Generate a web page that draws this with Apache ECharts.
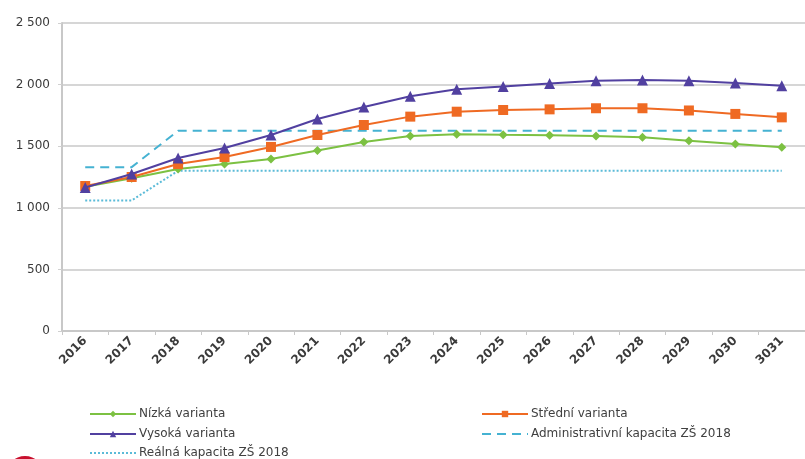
<!DOCTYPE html>
<html>
<head>
<meta charset="utf-8">
<script src="https://cdn.jsdelivr.net/npm/echarts@6/dist/echarts.min.js"></script>
<style>
  html, body { margin: 0; padding: 0; background: #fff; }
  #chart { width: 805px; height: 459px; }
</style>
</head>
<body>
<div id="chart"></div>
<script>
// roky na ose x (poslední popisek je v originále opravdu "3031")
var years = ['2016', '2017', '2018', '2019', '2020', '2021', '2022', '2023',
             '2024', '2025', '2026', '2027', '2028', '2029', '2030', '3031'];

// počty žáků podle variant
var nizka   = [1170, 1240, 1315, 1355, 1396, 1465, 1534, 1583, 1598, 1592, 1588, 1583, 1572, 1545, 1518, 1492];
var stredni = [1177, 1250, 1355, 1412, 1494, 1591, 1672, 1740, 1780, 1794, 1799, 1808, 1808, 1790, 1762, 1734];
var vysoka  = [1165, 1274, 1404, 1485, 1591, 1721, 1818, 1905, 1962, 1985, 2008, 2032, 2037, 2032, 2012, 1990];

// kapacity
var adminKap = [1330, 1330, 1625, 1625, 1625, 1625, 1625, 1625, 1625, 1625, 1625, 1625, 1625, 1625, 1625, 1625];
var realKap  = [1060, 1060, 1300, 1300, 1300, 1300, 1300, 1300, 1300, 1300, 1300, 1300, 1300, 1300, 1300, 1300];

var names = ['Nízká varianta', 'Střední varianta', 'Vysoká varianta',
             'Administrativní kapacita ZŠ 2018', 'Reálná kapacita ZŠ 2018'];

var chart = echarts.init(document.getElementById('chart'));

var font = 'DejaVu Sans, Verdana, sans-serif';

// jedna legenda pro každou položku, ať sedí rozložení do dvou sloupců
function legendItem(name, left, top, noSymbol) {
  var item = { name: name };
  if (noSymbol) item.itemStyle = { opacity: 0 };
  return {
    left: left, top: top, orient: 'horizontal',
    itemWidth: 46, itemHeight: 8, itemGap: 4,
    data: [item],
    textStyle: { fontSize: 12, color: '#404040', fontFamily: font, padding: [0, 0, 0, -2] }
  };
}

var option = {
  animation: false,
  textStyle: { fontFamily: font },
  grid: { left: 62, top: 23, right: -11, bottom: 128 },
  legend: [
    legendItem(names[0], 84, 403),
    legendItem(names[2], 84, 423),
    legendItem(names[4], 84, 442, true),
    legendItem(names[1], 476, 403),
    legendItem(names[3], 476, 423, true)
  ],
  xAxis: {
    type: 'category',
    data: years,
    boundaryGap: true,
    axisLine: { lineStyle: { color: '#c8c8c8', width: 2 } },
    axisTick: { show: true, length: 4, lineStyle: { color: '#c8c8c8' } },
    axisLabel: { rotate: 45, fontSize: 12, fontWeight: 'bold', color: '#3a3a3a', margin: 8 }
  },
  yAxis: {
    type: 'value',
    min: 0, max: 2500, interval: 500,
    axisLine: { show: true, lineStyle: { color: '#c8c8c8', width: 2 } },
    axisTick: { show: true, length: 4, lineStyle: { color: '#d0d0d0' } },
    splitLine: { lineStyle: { color: '#d6d6d6', width: 2 } },
    axisLabel: {
      fontSize: 12, color: '#3a3a3a', margin: 12,
      formatter: function (v) { return String(v).replace(/\B(?=(\d{3})+(?!\d))/g, ' '); }
    }
  },
  series: [
    {
      name: names[0], type: 'line', data: nizka,
      symbol: 'diamond', symbolSize: 9,
      itemStyle: { color: '#7cc142' },
      lineStyle: { color: '#7cc142', width: 2 }, z: 3
    },
    {
      name: names[1], type: 'line', data: stredni,
      symbol: 'rect', symbolSize: 10,
      itemStyle: { color: '#ef6a23' },
      lineStyle: { color: '#ef6a23', width: 2 }, z: 4
    },
    {
      name: names[2], type: 'line', data: vysoka,
      symbol: 'triangle', symbolSize: 11,
      itemStyle: { color: '#5140a0' },
      lineStyle: { color: '#5140a0', width: 2 }, z: 5
    },
    {
      name: names[3], type: 'line', data: adminKap,
      symbol: 'none',
      itemStyle: { color: '#45b2d2' },
      lineStyle: { color: '#45b2d2', width: 2, type: [9, 6] }, z: 2
    },
    {
      name: names[4], type: 'line', data: realKap,
      symbol: 'none',
      itemStyle: { color: '#5bbbd8' },
      lineStyle: { color: '#5bbbd8', width: 2, type: [2, 2] }, z: 2
    }
  ],
  graphic: [
    { type: 'circle', shape: { cx: 25, cy: 475, r: 19 }, style: { fill: '#c8102e' }, silent: true }
  ]
};

chart.setOption(option);
</script>
</body>
</html>
